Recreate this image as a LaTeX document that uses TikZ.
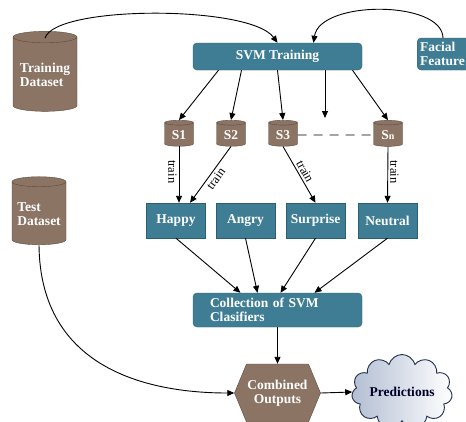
\documentclass[tikz,border=0pt]{standalone}
\usepackage{fontspec}
\setmainfont{Liberation Serif}
\usetikzlibrary{shapes.geometric,shapes.symbols,arrows.meta}

\definecolor{svmteal}{RGB}{62,125,148}
\definecolor{tealedge}{RGB}{42,96,116}
\definecolor{dbbrown}{RGB}{139,116,100}
\definecolor{brownedge}{RGB}{92,75,63}
\definecolor{cloudedge}{RGB}{32,46,82}
\definecolor{cloudfill}{RGB}{178,190,210}

\begin{document}
\begin{tikzpicture}[x=1pt,y=-1pt,
    font=\fontsize{13.5}{14.5}\selectfont,
    store/.style={cylinder, shape border rotate=90, aspect=0.22, draw=brownedge, fill=dbbrown, text=white, font=\fontsize{13.5}{14.5}\selectfont\bfseries, align=left, inner sep=1pt},
    svmbox/.style={rectangle, rounded corners=4pt, draw=tealedge, fill=svmteal, text=white, font=\fontsize{13.5}{14.5}\selectfont\bfseries},
    emobox/.style={rectangle, draw=tealedge, fill=svmteal, text=white, font=\fontsize{13.5}{14.5}\selectfont\bfseries, minimum width=59pt, minimum height=35pt, inner sep=1pt},
    arr/.style={-{Triangle[length=7pt,width=6pt]}, line width=0.9pt},
    trainlbl/.style={font=\fontsize{12.5}{13.5}\selectfont, inner sep=2pt}]
    \useasboundingbox (0,0) rectangle (466,421);
    \fill[white] (0,0) rectangle (466,421);
    \clip (0,0) rectangle (466,421);

    \node[store, minimum width=64pt, minimum height=80pt] (train) at (45,75) {Training\\Dataset};
    \node[store, minimum width=54pt, minimum height=68pt] (test) at (39,214) {Test\\Dataset};
    \node[svmbox, minimum width=169pt, minimum height=27pt] (svm) at (277.5,56.5) {SVM Training};
    \node[svmbox, anchor=west, minimum height=32pt, text width=56pt, align=left, inner sep=3pt] (facial) at (417,54) {Facial\\Feature};

    \node[store, minimum width=29pt, minimum height=26pt, aspect=0.3] (s1) at (179,135) {S1};
    \node[store, minimum width=29pt, minimum height=26pt, aspect=0.3] (s2) at (231,135) {S2};
    \node[store, minimum width=29pt, minimum height=26pt, aspect=0.3] (s3) at (283,135) {S3};
    \node[store, minimum width=29pt, minimum height=26pt, aspect=0.3] (sn) at (388,135) {S{\fontsize{10}{11}\selectfont n}};
    \coordinate (gap) at (325,118);

    \node[emobox] (happy) at (176,220.5) {Happy};
    \node[emobox] (angry) at (245.5,220.5) {Angry};
    \node[emobox] (surprise) at (315.5,220.5) {Surprise};
    \node[emobox] (neutral) at (387.5,220.5) {Neutral};

    \node[svmbox, minimum width=169pt, minimum height=34pt, text width=135pt, align=left] (coll) at (277.5,310) {Collection of SVM\\Clasifiers};
    \node[signal, signal to=west and east, signal pointer angle=135, draw=brownedge, fill=dbbrown, text=white, font=\fontsize{13.5}{14.5}\selectfont\bfseries, align=center, minimum width=85pt, minimum height=58pt, inner sep=1pt] (comb) at (277.5,393) {Combined\\Outputs};
    \node[cloud, cloud puffs=11, aspect=1.6, draw=cloudedge, line width=0.9pt, left color=cloudfill, right color=white, text=black!85!blue, font=\fontsize{13.5}{14.5}\selectfont\bfseries, minimum width=88pt, minimum height=56pt, inner sep=0pt] (pred) at (402,392) {Predictions};

    % inputs into training
    \draw[arr] ([yshift=-7pt]train.north) .. controls (55,5) and (250,5) .. (svm.north);
    \draw[arr] ([xshift=26pt]facial.north west) .. controls (442,0) and (320,0) .. ([xshift=36pt]svm.north);

    \draw[arr] ([xshift=-59pt]svm.south) -- (s1.north);
    \draw[arr] ([xshift=-36pt]svm.south) -- (s2.north);
    \draw[arr] ([xshift=0pt]svm.south) -- (s3.north);
    \draw[arr] (svm.south -| gap) -- (gap);
    \draw[arr] ([xshift=75pt]svm.south) -- (sn.north);
    \draw[line width=0.9pt, dash pattern=on 9pt off 7pt] (s3.east) -- (sn.west);

    \draw[arr] (s1.south) -- (s1.south |- happy.north) node[trainlbl, pos=0.45, anchor=north, rotate=-90] {train};
    \draw[arr] (s2.south) -- ([xshift=14pt]happy.north) node[trainlbl, pos=0.5, anchor=north, rotate=54] {train};
    \draw[arr] (s3.south) -- (surprise.north) node[trainlbl, pos=0.5, anchor=south, rotate=-61] {train};
    \draw[arr] (sn.south) -- (neutral.north) node[trainlbl, pos=0.45, anchor=south, rotate=-90] {train};

    \draw[arr] (happy.south) -- ([xshift=-37pt]coll.north);
    \draw[arr] (angry.south) -- ([xshift=-20pt]coll.north);
    \draw[arr] (surprise.south) -- ([xshift=3pt]coll.north);
    \draw[arr] (neutral.south) -- ([xshift=37pt]coll.north);

    \draw[arr] (coll.south) -- (comb.north);
    \draw[arr] (test.south) .. controls (40,370) and (150,393) .. (comb.west);
    \draw[arr] (comb.east) -- (pred.west);
\end{tikzpicture}
\end{document}
